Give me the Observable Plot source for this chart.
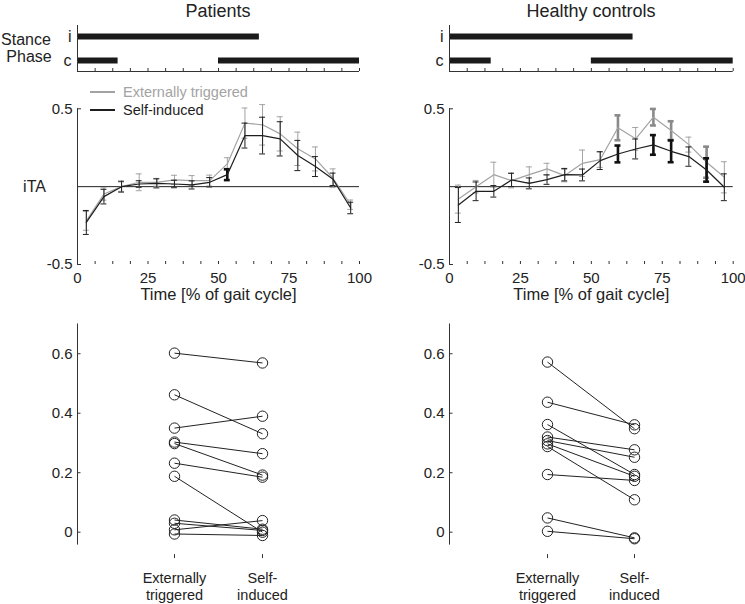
<!DOCTYPE html>
<html><head><meta charset="utf-8">
<script src="https://cdn.jsdelivr.net/npm/d3@7"></script>
<script src="https://cdn.jsdelivr.net/npm/@observablehq/plot@0.6"></script>
<style>
body{margin:0;background:#fff;font-family:"Liberation Sans",Arial,sans-serif;}
#root{position:relative;width:745px;height:604px;overflow:hidden;background:#fff;}
.t{position:absolute;white-space:nowrap;color:#222;line-height:1;}
</style></head><body><div id="root"></div>
<script>
// ---------- data ----------
const stanceRows = ["i", "c"];
const stancePatients = [
  {row: "i", start: 0, end: 64.5},
  {row: "c", start: 0, end: 14.4},
  {row: "c", start: 50, end: 100}
];
const stanceHealthy = [
  {row: "i", start: 0, end: 64.7},
  {row: "c", start: 0, end: 14.7},
  {row: "c", start: 50, end: 100}
];
const gaitTicks = [0, 6.25, 12.5, 18.75, 25, 31.25, 37.5, 43.75, 50, 56.25, 62.5, 68.75, 75, 81.25, 87.5, 93.75, 100];
const timeLabels = [0, 25, 50, 75, 100];
const timePoints = [3.125, 9.375, 15.625, 21.875, 28.125, 34.375, 40.625, 46.875, 53.125, 59.375, 65.625, 71.875, 78.125, 84.375, 90.625, 96.875];

const patET    = [-0.22, -0.047, 0, 0.028, 0.028, 0.043, 0.039, 0.039, 0.146, 0.408, 0.397, 0.339, 0.243, 0.178, 0.054, -0.116];
const patETerr = [0.06, 0.04, 0.03, 0.054, 0.025, 0.03, 0.032, 0.035, 0.04, 0.097, 0.13, 0.11, 0.107, 0.077, 0.06, 0.03];
const patSI    = [-0.23, -0.064, 0, 0.017, 0.021, 0.017, 0.011, 0.028, 0.077, 0.328, 0.328, 0.307, 0.2, 0.129, 0.047, -0.137];
const patSIerr = [0.077, 0.047, 0.035, 0.021, 0.029, 0.024, 0.026, 0.03, 0.035, 0.08, 0.118, 0.11, 0.097, 0.064, 0.04, 0.037];
const patETsig = [];
const patSIsig = [8];

const hcET    = [-0.08, 0, 0.077, 0.039, 0.077, 0.114, 0.071, 0.15, 0.174, 0.378, 0.307, 0.446, 0.36, 0.27, 0.157, 0.06];
const hcETerr = [0.09, 0.04, 0.08, 0.047, 0.05, 0.036, 0.04, 0.085, 0.05, 0.08, 0.073, 0.053, 0.06, 0.048, 0.1, 0.1];
const hcSI    = [-0.118, -0.03, -0.03, 0.043, 0.021, 0.045, 0.077, 0.075, 0.167, 0.21, 0.242, 0.268, 0.227, 0.193, 0.107, -0.004];
const hcSIerr = [0.112, 0.06, 0.037, 0.043, 0.035, 0.03, 0.04, 0.038, 0.057, 0.054, 0.064, 0.063, 0.07, 0.062, 0.075, 0.086];
const hcETsig = [9, 11, 12, 14];
const hcSIsig = [9, 11, 12, 14];

const conditions = ["Externally triggered", "Self-induced"];
const conditionLabels = ["Externally\ntriggered", "Self-\ninduced"];
const scatterTicks = [0, 0.2, 0.4, 0.6];
const patPairET = [0.602, 0.462, 0.35, 0.303, 0.298, 0.232, 0.188, 0.041, 0.030, 0.008, -0.006];
const patPairSI = [0.569, 0.331, 0.39, 0.264, 0.192, 0.185, 0.000, 0.010, 0.006, 0.039, -0.011];
const hcPairET  = [0.572, 0.437, 0.362, 0.320, 0.308, 0.297, 0.288, 0.194, 0.048, 0.003];
const hcPairSI  = [0.348, 0.361, 0.194, 0.277, 0.252, 0.188, 0.109, 0.174, -0.019, -0.022];

// ---------- layout ----------
const FONT = '"Liberation Sans", Arial, sans-serif';
const root = document.getElementById("root");
function place(el, left, top) {
  el.style.position = "absolute";
  el.style.left = left + "px";
  el.style.top = top + "px";
  root.appendChild(el);
}
function label(text, left, top, size, extra) {
  const d = document.createElement("div");
  d.className = "t";
  d.textContent = text;
  d.style.left = left + "px";
  d.style.top = top + "px";
  d.style.fontSize = size + "px";
  if (extra) Object.assign(d.style, extra);
  root.appendChild(d);
  return d;
}
const styleBase = {fontFamily: FONT, fontSize: "14px", color: "#222", background: "transparent", overflow: "visible"};
const panels = [
  {left: 0, width: 370, ml: 77, mr: 11},
  {left: 370, width: 375, ml: 79, mr: 12.3}
];

function stancePlot(p, bars) {
  const yBottom = 1.458;
  return Plot.plot({
    width: p.width, height: 80, marginLeft: p.ml, marginRight: p.mr, marginTop: 25, marginBottom: 9,
    style: styleBase,
    x: {domain: [0, 100]},
    y: {domain: [-0.458, yBottom], reverse: true},
    marks: [
      Plot.ruleY(bars, {y: d => stanceRows.indexOf(d.row), x1: "start", x2: "end", strokeWidth: 6, stroke: "#1a1a1a"}),
      Plot.ruleX([0], {stroke: "#333"}),
      Plot.ruleY([yBottom], {stroke: "#333"}),
      Plot.axisX({ticks: gaitTicks, tickSize: -3, tickFormat: () => "", stroke: "#333", label: null}),
      Plot.axisY({ticks: [0, 1], tickFormat: i => stanceRows[i], tickSize: 0, tickPadding: 6, fontSize: 16, label: null})
    ]
  });
}

function buildRows(mean, err, sig) {
  return timePoints.map((t, i) => ({t, mean: mean[i], err: err[i], sig: sig.includes(i)}));
}
function seriesMarks(rows, color, sigColor) {
  const half = 1.05;
  const sw = d => d.sig ? 2.6 : 1;
  const col = d => d.sig ? sigColor : color;
  return [
    Plot.ruleX(rows, {x: "t", y1: d => d.mean - d.err, y2: d => d.mean + d.err, stroke: col, strokeWidth: sw}),
    Plot.ruleY(rows, {y: d => d.mean - d.err, x1: d => d.t - half, x2: d => d.t + half, stroke: col, strokeWidth: sw}),
    Plot.ruleY(rows, {y: d => d.mean + d.err, x1: d => d.t - half, x2: d => d.t + half, stroke: col, strokeWidth: sw}),
    Plot.line(rows, {x: "t", y: "mean", stroke: color, strokeWidth: 1.2})
  ];
}
function linePlot(p, et, etErr, etSig, si, siErr, siSig, showYLabel) {
  const etRows = buildRows(et, etErr, etSig);
  const siRows = buildRows(si, siErr, siSig);
  return Plot.plot({
    width: p.width, height: 240, marginLeft: p.ml, marginRight: p.mr, marginTop: 28.3, marginBottom: 56,
    style: styleBase,
    color: {type: "identity"},
    x: {domain: [0, 100]},
    y: {domain: [-0.5, 0.5]},
    marks: [
      Plot.ruleY([0], {stroke: "#222"}),
      Plot.ruleX([0], {stroke: "#333"}),
      ...seriesMarks(etRows, "#a3a3a3", "#8a8a8a"),
      ...seriesMarks(siRows, "#1e1e1e", "#111"),
      Plot.axisY({ticks: [-0.5, 0.5], tickSize: -4, tickFormat: () => "", stroke: "#333", label: null}),
      Plot.axisY({ticks: [-0.5, 0.5], tickSize: 0, tickPadding: 5, tickFormat: d => String(d), fontSize: 15, label: null}),
      Plot.axisX({ticks: gaitTicks.filter(t => t > 0), tickSize: -3, tickFormat: () => "", stroke: "#333", label: null}),
      Plot.axisX({ticks: timeLabels, tickSize: 0, tickPadding: 8, tickFormat: d => String(d), fontSize: 15, label: null}),
      Plot.text(["Time [% of gait cycle]"], {frameAnchor: "bottom", dy: 35, fontSize: 16.5, fill: "#222"}),
      ...(showYLabel ? [Plot.text(["iTA"], {frameAnchor: "left", dx: -43, textAnchor: "middle", fontSize: 16, fill: "#222"})] : [])
    ]
  });
}

function scatterPlot(p, etVals, siVals, xRange) {
  const pairs = etVals.map((v, i) => ({et: v, si: siVals[i]}));
  const pts = [
    ...etVals.map(v => ({cond: conditions[0], v})),
    ...siVals.map(v => ({cond: conditions[1], v}))
  ];
  return Plot.plot({
    width: p.width, height: 284, marginLeft: p.ml, marginRight: p.mr, marginTop: 3.5, marginBottom: 60.4,
    style: styleBase,
    x: {type: "point", domain: conditions, range: xRange, padding: 0},
    y: {domain: [-0.04, 0.7]},
    marks: [
      Plot.frame({anchor: "left", stroke: "#333"}),
      Plot.link(pairs, {x1: () => conditions[0], x2: () => conditions[1], y1: "et", y2: "si", stroke: "#222", strokeWidth: 1}),
      Plot.dot(pts, {x: "cond", y: "v", r: 5.2, stroke: "#222", fill: "none", strokeWidth: 1}),
      Plot.axisY({ticks: scatterTicks, tickSize: -3.5, tickFormat: () => "", stroke: "#333", label: null}),
      Plot.axisY({ticks: scatterTicks, tickSize: 0, tickPadding: 5, tickFormat: d => String(d), fontSize: 15, label: null}),
      Plot.axisX({tickSize: 4, dy: 10.5, tickFormat: () => "", stroke: "#333", label: null}),
      Plot.axisX({tickSize: 0, tickPadding: 26, tickFormat: c => conditionLabels[conditions.indexOf(c)], fontSize: 14.5, lineHeight: 1.22, label: null})
    ]
  });
}

// ---------- render ----------
place(stancePlot(panels[0], stancePatients), 0, 0);
place(stancePlot(panels[1], stanceHealthy), 370, 0);
place(linePlot(panels[0], patET, patETerr, patETsig, patSI, patSIerr, patSIsig, true), 0, 80);
place(linePlot(panels[1], hcET, hcETerr, hcETsig, hcSI, hcSIerr, hcSIsig, false), 370, 80);
place(scatterPlot(panels[0], patPairET, patPairSI, [173.3, 261.7]), 0, 320);
place(scatterPlot(panels[1], hcPairET, hcPairSI, [176.7, 264.3]), 370, 320);

// titles and side labels
label("Patients", 168, 2, 18, {width: "100px", textAlign: "center"});
label("Healthy controls", 491, 2, 18, {width: "200px", textAlign: "center"});
label("Stance", 0, 32, 16, {width: "52px", textAlign: "center"});
label("Phase", 0, 49, 16, {width: "58px", textAlign: "center"});

// legend (patients panel)
function legendLine(x1, x2, y, color) {
  const d = document.createElement("div");
  d.style.position = "absolute";
  d.style.left = x1 + "px";
  d.style.top = (y - 0.6) + "px";
  d.style.width = (x2 - x1) + "px";
  d.style.height = "1.2px";
  d.style.background = color;
  root.appendChild(d);
}
legendLine(90, 115, 92, "#a3a3a3");
legendLine(90, 115, 110, "#1e1e1e");
label("Externally triggered", 123, 85, 14.5, {color: "#a3a3a3"});
label("Self-induced", 123, 103, 14.5, {color: "#1e1e1e"});
</script>
</body></html>
